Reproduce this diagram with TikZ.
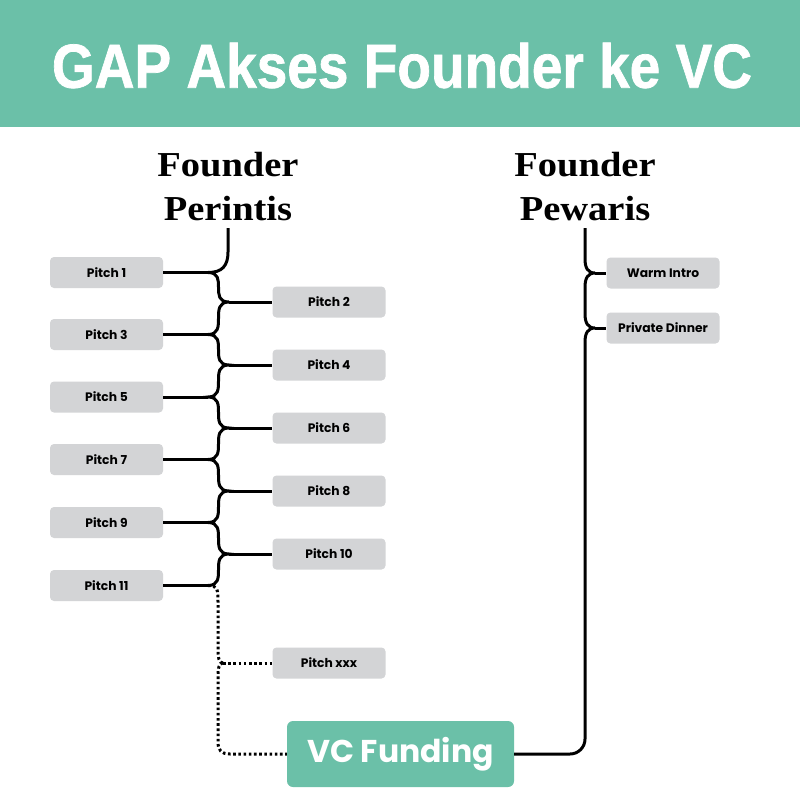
\documentclass[tikz,border=0pt]{standalone}
\usepackage{fontspec}
\usepackage{graphicx}
\newfontfamily\poppins{Poppins}
\newfontfamily\titlefont[FakeBold=1.2]{Liberation Sans}
\newfontfamily\headfont{Liberation Serif}
\definecolor{hgreen}{HTML}{6BC0A8}
\definecolor{boxgray}{HTML}{D3D4D6}
\begin{document}
\begin{tikzpicture}[x=1pt,y=-1pt,
  pitch/.style={fill=boxgray, rounded corners=4pt, minimum width=113pt, minimum height=31pt, inner sep=0pt, font=\poppins\bfseries\fontsize{12.3}{14}\selectfont},
  vcbox/.style={fill=hgreen, rounded corners=6pt, minimum width=227pt, minimum height=66pt, inner sep=0pt, text=white, font=\poppins\bfseries\fontsize{31.5}{36}\selectfont},
  link/.style={line width=3pt, black},
  dotlink/.style={line width=3pt, black, dash pattern=on 2.6pt off 2.6pt},
  head/.style={anchor=base, inner sep=0pt, font=\headfont\bfseries\fontsize{35}{40}\selectfont}]

\useasboundingbox (0,0) rectangle (800,800);
\fill[white] (0,0) rectangle (800,800);
\fill[hgreen] (0,0) rectangle (800,127);
\node[text=white, inner sep=0pt] (title) at (402,65.5) {\resizebox{700pt}{45pt}{\titlefont\bfseries GAP Akses Founder ke VC}};

% headings
\node[head] (fp1) at (228,176) {\scalebox{1.1}[1]{Founder}};
\node[head] (fp2) at (228,220) {\scalebox{1.1}[1]{Perintis}};
\node[head] (fw1) at (585,176) {\scalebox{1.1}[1]{Founder}};
\node[head] (fw2) at (585,220) {\scalebox{1.1}[1]{Pewaris}};

% left pitches
\node[pitch] (p1) at (106.5,272.5) {Pitch 1};
\node[pitch] (p3) at (106.5,334.5) {Pitch 3};
\node[pitch] (p5) at (106.5,397) {Pitch 5};
\node[pitch] (p7) at (106.5,459.5) {Pitch 7};
\node[pitch] (p9) at (106.5,522.5) {Pitch 9};
\node[pitch] (p11) at (106.5,585.5) {Pitch 11};
% right pitches
\node[pitch] (p2) at (329,302) {Pitch 2};
\node[pitch] (p4) at (329,365) {Pitch 4};
\node[pitch] (p6) at (329,428) {Pitch 6};
\node[pitch] (p8) at (329,491) {Pitch 8};
\node[pitch] (p10) at (329,554) {Pitch 10};
\node[pitch] (pxxx) at (329,663) {Pitch xxx};
% pewaris
\node[pitch] (warm) at (663,273) {Warm Intro};
\node[pitch] (dinner) at (663,328) {Private Dinner};
% VC
\node[vcbox] (vc) at (400.5,754) {VC Funding};

% junction tips
\coordinate (top1) at (228,228);
\coordinate (t1) at (208,272.5);
\coordinate (t2) at (229,302);
\coordinate (t3) at (208,334.5);
\coordinate (t4) at (229,365);
\coordinate (t5) at (208,397);
\coordinate (t6) at (229,428);
\coordinate (t7) at (208,459.5);
\coordinate (t8) at (229,491);
\coordinate (t9) at (208,522.5);
\coordinate (t10) at (229,554);
\coordinate (t11) at (208,585.5);
\coordinate (tx) at (223,663);
\coordinate (top2) at (585,228);
\coordinate (tw) at (595,273);
\coordinate (td) at (595,328);

% left trunk
\draw[link] (top1) -- (228,252) .. controls (228,266) and (222,272.5) .. (t1)
  .. controls (t2 |- t1) and (t1 |- t2) .. (t2)
  .. controls (t3 |- t2) and (t2 |- t3) .. (t3)
  .. controls (t4 |- t3) and (t3 |- t4) .. (t4)
  .. controls (t5 |- t4) and (t4 |- t5) .. (t5)
  .. controls (t6 |- t5) and (t5 |- t6) .. (t6)
  .. controls (t7 |- t6) and (t6 |- t7) .. (t7)
  .. controls (t8 |- t7) and (t7 |- t8) .. (t8)
  .. controls (t9 |- t8) and (t8 |- t9) .. (t9)
  .. controls (t10 |- t9) and (t9 |- t10) .. (t10)
  .. controls (t11 |- t10) and (t10 |- t11) .. (t11);
\foreach \a in {1,3,5,7,9,11} \draw[link] (p\a.east) -- (t\a);
\foreach \a in {2,4,6,8,10} \draw[link] (t\a) -- (p\a.west);

% dotted part
\draw[dotlink] (t11) .. controls (218,585.5) and (218,590) .. (218,602) -- (218,649)
  .. controls (218,658) and (219,663) .. (tx);
\draw[dotlink] (tx) -- (pxxx.west);
\draw[dotlink] (tx) .. controls (219,663) and (218,668) .. (218,677) -- (218,742)
  .. controls (218,750) and (221,754) .. (230,754) -- (vc.west);

% right trunk
\draw[link] (top2) -- (585,259) .. controls (585,268) and (588,273) .. (tw)
  .. controls (588,273) and (585,278) .. (585,287) -- (585,314)
  .. controls (585,323) and (588,328) .. (td)
  .. controls (588,328) and (585,333) .. (585,342) -- (585,739)
  .. controls (585,747.3) and (578.3,754) .. (570,754) -- (vc.east);
\draw[link] (tw) -- (warm.west);
\draw[link] (td) -- (dinner.west);
\end{tikzpicture}
\end{document}
